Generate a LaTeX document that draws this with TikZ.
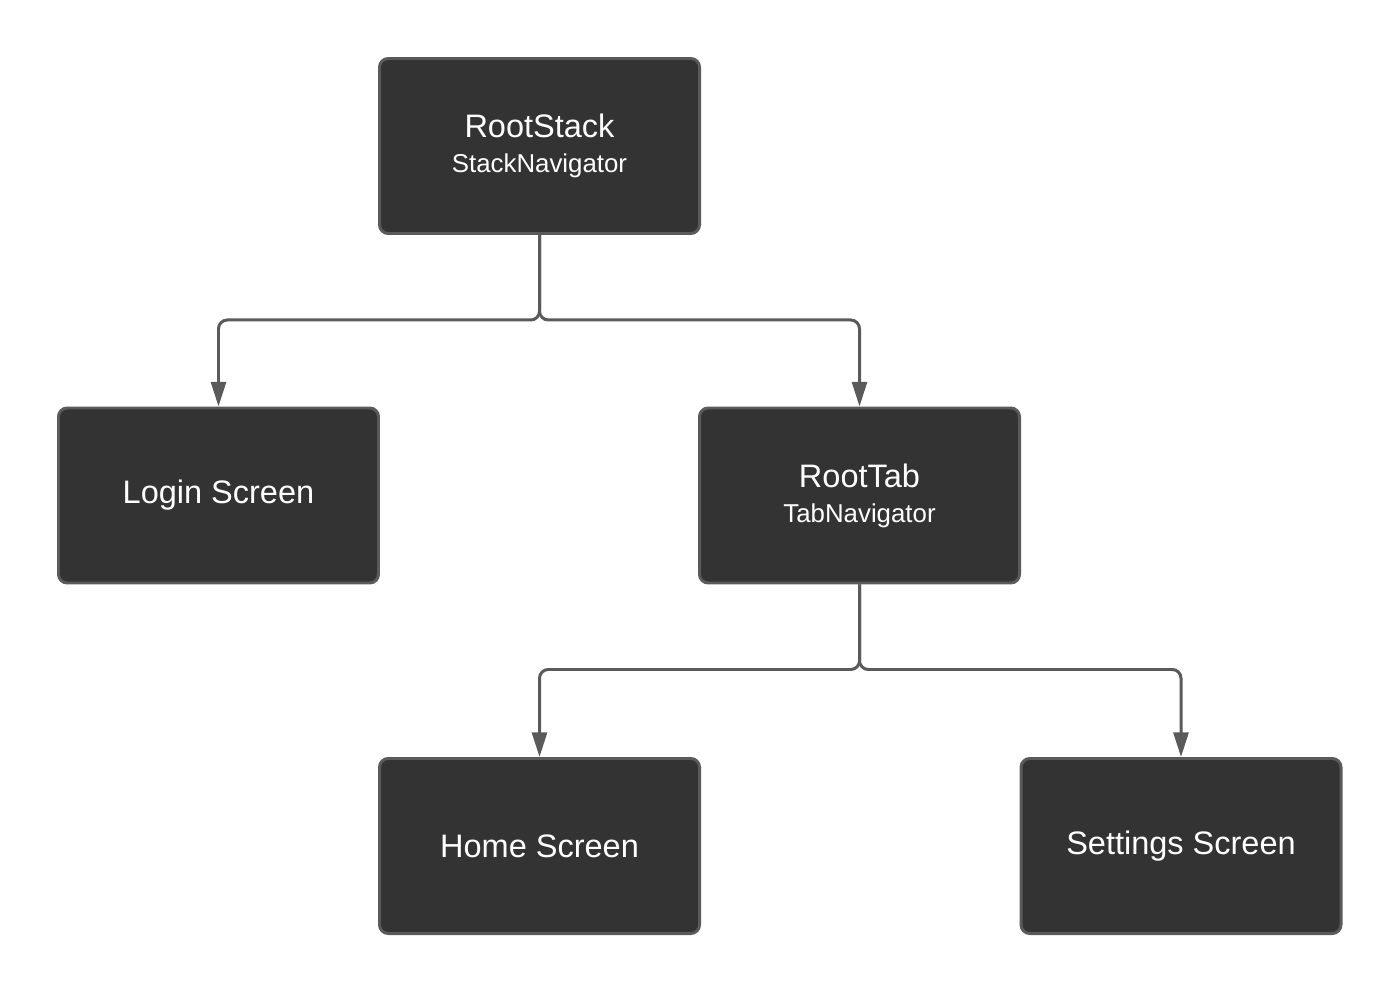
\documentclass[tikz,border=0pt]{standalone}
\usepackage{fontspec}
\setmainfont{Liberation Sans}
\usetikzlibrary{arrows.meta}
\definecolor{boxfill}{HTML}{333333}
\definecolor{boxline}{HTML}{5A5A5A}
\begin{document}
\begin{tikzpicture}[
    navbox/.style={draw=boxline,fill=boxfill,line width=1.7pt,rounded corners=5pt,
        minimum width=6.4cm,minimum height=3.5cm,text=white,align=center,font=\fontsize{18.5}{22}\selectfont},
    link/.style={draw=boxline,line width=1.7pt,rounded corners=5pt,-{Triangle[length=14pt,width=8.5pt]}}
]
        \useasboundingbox (0,0) rectangle (28,-19.84);

        \node[navbox](stack)at(10.79,-2.92){RootStack\\[-2pt]{\fontsize{14.7}{17}\selectfont StackNavigator}};
        \node[navbox](login)at(4.37,-9.91){Login Screen};
        \node[navbox](tab)at(17.19,-9.91){RootTab\\[-2pt]{\fontsize{14.7}{17}\selectfont TabNavigator}};
        \node[navbox](home)at(10.79,-16.92){Home Screen};
        \node[navbox](settings)at(23.62,-16.92){Settings Screen};

        \draw[link](stack.south)--++(0,-1.7)-|(login.north);
        \draw[link](stack.south)--++(0,-1.7)-|(tab.north);
        \draw[link](tab.south)--++(0,-1.7)-|(home.north);
        \draw[link](tab.south)--++(0,-1.7)-|(settings.north);
    \end{tikzpicture}
\end{document}
